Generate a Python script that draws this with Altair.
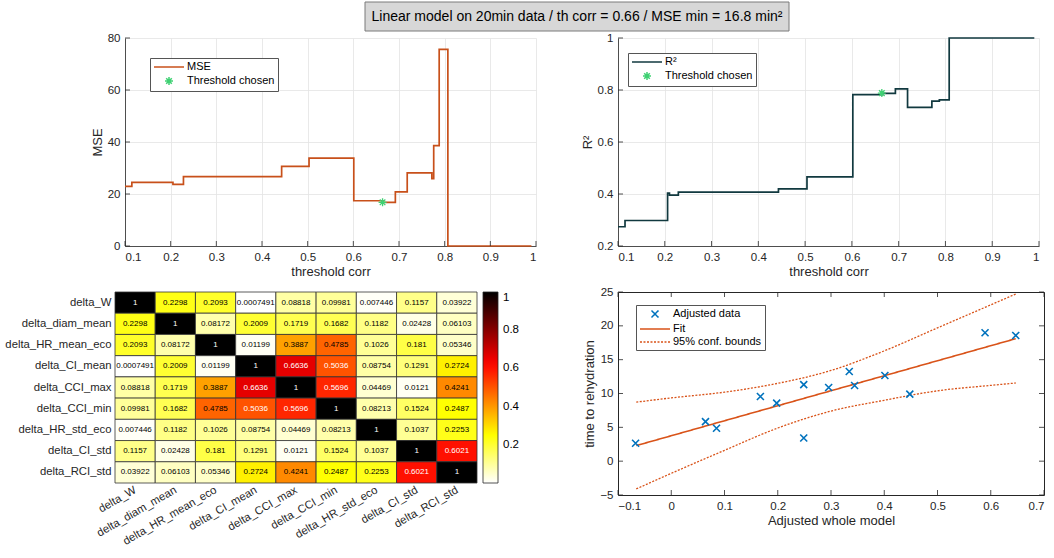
import altair as alt
import pandas as pd

FONT = "Liberation Sans"
INK = "#262626"
GRID = "#e3e3e3"
MSE_COLOR = "#c8501a"
R2_COLOR = "#11393f"
STAR_COLOR = "#3fd173"
BLUE = "#0072BD"
ORANGE = "#D95319"

TITLE = "Linear model on 20min data / th corr = 0.66 / MSE min = 16.8 min²"

# MSE and R² against the correlation threshold (value holds until the next break)
mse_thr = [0.100, 0.115, 0.205, 0.228, 0.443, 0.503, 0.601, 0.665, 0.692, 0.718, 0.772, 0.776, 0.788, 0.807, 0.990]
mse_val = [22.9, 24.5, 23.7, 26.7, 30.6, 33.8, 17.4, 16.8, 20.8, 28.1, 25.9, 38.6, 75.6, 0.0, 0.0]
r2_thr = [0.100, 0.115, 0.206, 0.210, 0.229, 0.443, 0.504, 0.602, 0.665, 0.693, 0.719, 0.771, 0.787, 0.808, 0.990]
r2_val = [0.274, 0.298, 0.403, 0.396, 0.407, 0.420, 0.466, 0.782, 0.787, 0.804, 0.733, 0.757, 0.762, 1.0, 1.0]

chosen_thr = 0.664
chosen_mse = 16.8
chosen_r2 = 0.788

thr_ticks = [0.1, 0.2, 0.3, 0.4, 0.5, 0.6, 0.7, 0.8, 0.9, 1.0]
mse_ticks = [0, 20, 40, 60, 80]
r2_ticks = [0.2, 0.4, 0.6, 0.8, 1.0]

# correlation matrix of the selected predictors
variables = ["delta_W", "delta_diam_mean", "delta_HR_mean_eco", "delta_CI_mean", "delta_CCI_max",
             "delta_CCI_min", "delta_HR_std_eco", "delta_CI_std", "delta_RCI_std"]
corr = [
    [1, 0.2298, 0.2093, 0.0007491, 0.08818, 0.09981, 0.007446, 0.1157, 0.03922],
    [0.2298, 1, 0.08172, 0.2009, 0.1719, 0.1682, 0.1182, 0.02428, 0.06103],
    [0.2093, 0.08172, 1, 0.01199, 0.3887, 0.4785, 0.1026, 0.181, 0.05346],
    [0.0007491, 0.2009, 0.01199, 1, 0.6636, 0.5036, 0.08754, 0.1291, 0.2724],
    [0.08818, 0.1719, 0.3887, 0.6636, 1, 0.5696, 0.04469, 0.0121, 0.4241],
    [0.09981, 0.1682, 0.4785, 0.5036, 0.5696, 1, 0.08213, 0.1524, 0.2487],
    [0.007446, 0.1182, 0.1026, 0.08754, 0.04469, 0.08213, 1, 0.1037, 0.2253],
    [0.1157, 0.02428, 0.181, 0.1291, 0.0121, 0.1524, 0.1037, 1, 0.6021],
    [0.03922, 0.06103, 0.05346, 0.2724, 0.4241, 0.2487, 0.2253, 0.6021, 1],
]
colorbar_ticks = [0.2, 0.4, 0.6, 0.8, 1.0]

# added-variable plot of the whole model
adj_x = [-0.067, 0.0643, 0.085, 0.1674, 0.198, 0.2488, 0.2488, 0.2956, 0.3343, 0.3443, 0.4012, 0.448, 0.5893, 0.6469]
adj_y = [2.65, 5.85, 4.87, 9.55, 8.57, 11.32, 3.43, 10.88, 13.25, 11.18, 12.66, 9.9, 18.98, 18.58]
fit_x = [-0.0657, 0.6469]
fit_y = [2.3, 18.1]
bound_x = [-0.0657, 0.0, 0.1, 0.2, 0.3, 0.4, 0.5, 0.6, 0.6469]
bound_hi = [8.72, 9.35, 10.2, 11.5, 13.4, 16.3, 19.7, 23.1, 24.7]
bound_lo = [-4.1, -1.8, 1.6, 4.9, 7.4, 9.0, 10.4, 11.2, 11.55]
model_ticks = [-0.1, 0.0, 0.1, 0.2, 0.3, 0.4, 0.5, 0.6, 0.7]
time_ticks = [-5, 0, 5, 10, 15, 20, 25]

# marker shapes (unit paths, scaled by the symbol size)
LINE_SYM = "M-3,0L3,0"
STAR = "M0,-0.8L0,0.8M-0.8,0L0.8,0M-0.56,-0.56L0.56,0.56M-0.56,0.56L0.56,-0.56"
XMARK = "M-0.7,-0.7L0.7,0.7M-0.7,0.7L0.7,-0.7"

LEG_BOX = dict(strokeColor="#555555", fillColor="white", padding=3, title=None,
               orient="none", labelFontSize=11, labelOffset=12, rowPadding=2,
               symbolSize=100, symbolStrokeWidth=1.5, symbolOffset=10)
NUM = "~r"


def inner_ticks(values, x_enc, y_enc, W, H, sides):
    """Short tick marks drawn inside the plot frame, on the panel's own scales and axes."""
    layers = []
    for side in sides:
        if side in ("bottom", "top"):
            df = pd.DataFrame({x_enc.shorthand.split(":")[0]: values})
            rule = alt.Chart(df).mark_rule(color=INK, strokeWidth=0.8)
            y0, y1 = (H, H - 5) if side == "bottom" else (0, 5)
            layers.append(rule.encode(x=x_enc, y=alt.value(y0), y2=alt.value(y1)))
        else:
            df = pd.DataFrame({y_enc.shorthand.split(":")[0]: values})
            rule = alt.Chart(df).mark_rule(color=INK, strokeWidth=0.8)
            x0, x1 = (0, 5) if side == "left" else (W, W - 5)
            layers.append(rule.encode(y=y_enc, x=alt.value(x0), x2=alt.value(x1)))
    return layers


def threshold_panel(thr, val, star_y, name, color, y_dom, y_ticks, y_title, W, leg_x, leg_y):
    H = 208
    curve = pd.DataFrame({"thr": thr, "val": val, "series": name})
    star = pd.DataFrame({"thr": [chosen_thr], "val": [star_y], "series": ["Threshold chosen"]})
    dom = [name, "Threshold chosen"]
    legend = alt.Legend(legendX=leg_x, legendY=leg_y, **LEG_BOX)
    cscale = alt.Scale(domain=dom, range=[color, STAR_COLOR])
    sscale = alt.Scale(domain=dom, range=[LINE_SYM, STAR])
    x_enc = alt.X("thr:Q", scale=alt.Scale(domain=[0.1, 1.0], nice=False, zero=False),
                  axis=alt.Axis(values=thr_ticks, format=NUM, title="threshold corr", grid=True,
                                labelOverlap=False))
    y_enc = alt.Y("val:Q", scale=alt.Scale(domain=y_dom, nice=False, zero=False),
                  axis=alt.Axis(values=y_ticks, format=NUM, title=y_title, grid=True,
                                labelOverlap=False))
    line = alt.Chart(curve).mark_line(interpolate="step-after", strokeWidth=1.7).encode(
        x=x_enc, y=y_enc, color=alt.Color("series:N", scale=cscale, legend=legend))
    point = alt.Chart(star).mark_point(filled=False, size=100, strokeWidth=1.3, opacity=1).encode(
        x=x_enc, y=y_enc,
        color=alt.Color("series:N", scale=cscale, legend=legend),
        shape=alt.Shape("series:N", scale=sscale, legend=legend))
    layers = ([line, point] + inner_ticks(thr_ticks, x_enc, y_enc, W, H, ["bottom"])
              + inner_ticks(y_ticks, x_enc, y_enc, W, H, ["left"]))
    return layers, W, H


tl_layers, tl_w, tl_h = threshold_panel(mse_thr, mse_val, chosen_mse, "MSE", MSE_COLOR,
                                        [0, 80], mse_ticks, "MSE", 411, 25, 20)
tr_layers, tr_w, tr_h = threshold_panel(r2_thr, r2_val, chosen_r2, "R²", R2_COLOR,
                                        [0.2, 1.0], r2_ticks, "R²", 421, 10, 15)

# boxed overall title, drawn above the first panel
title_df = pd.DataFrame({"title": [TITLE]})
title_box = alt.Chart(title_df).mark_rect(fill="#d7d7d7", stroke="#7a7a7a", strokeWidth=1).encode(
    x=alt.value(240), x2=alt.value(664), y=alt.value(-36), y2=alt.value(-7))
title_text = alt.Chart(title_df).mark_text(fontSize=14, color="black", align="center",
                                           baseline="middle", font=FONT).encode(
    x=alt.value(452), y=alt.value(-21), text="title:N")

tl = alt.layer(*tl_layers, title_box, title_text).properties(width=tl_w, height=tl_h)
tr = alt.layer(*tr_layers).properties(width=tr_w, height=tr_h)

# correlation heatmap
cells = []
for i, rname in enumerate(variables):
    for j in range(len(variables)):
        cells.append({"row": rname, "col": j, "col_end": j + 1, "mid": j + 0.5, "value": corr[i][j]})
cells = pd.DataFrame(cells)
name_expr = "[" + ",".join("'%s'" % v for v in variables) + "][floor(datum.value)]"
hm_x = alt.X("col:Q", scale=alt.Scale(domain=[0.2486, 9], nice=False, zero=False),
             axis=alt.Axis(values=[j + 0.5 for j in range(len(variables))], labelExpr=name_expr,
                           labelAngle=330, labelAlign="right", labelBaseline="middle",
                           labelOverlap=False, labelFontSize=11.3, labelPadding=6,
                           domain=False, ticks=False, grid=False, title=None, labelColor=INK))
hm_y = alt.Y("row:N", sort=variables, scale=alt.Scale(paddingInner=0, paddingOuter=0),
             axis=alt.Axis(offset=10, labelPadding=4, domain=False, ticks=False, grid=False,
                           title=None, labelFontSize=11.3, labelColor=INK))
hm_rect = alt.Chart(cells).mark_rect(stroke="#333333", strokeWidth=0.8).encode(
    x=hm_x, x2="col_end:Q", y=hm_y,
    color=alt.Color("value:Q",
                    scale=alt.Scale(domain=[0, 0.25, 0.625, 1],
                                    range=["#ffffff", "#ffff00", "#ff0000", "#000000"],
                                    interpolate="rgb"),
                    legend=alt.Legend(title=None, orient="right", offset=6, direction="vertical",
                                      gradientLength=191, gradientThickness=15,
                                      values=colorbar_ticks, format=NUM, labelFontSize=11.5,
                                      gradientStrokeColor=INK, gradientStrokeWidth=0.8,
                                      labelOffset=5, padding=0)))
hm_text = alt.Chart(cells).mark_text(fontSize=8, font=FONT).encode(
    x=alt.X("mid:Q"), y=alt.Y("row:N", sort=variables),
    text=alt.Text("value:Q", format=".4~g"),
    color=alt.condition("datum.value > 0.5", alt.value("white"), alt.value("black")))
hm = alt.layer(hm_rect, hm_text).properties(width=352, height=191)

# added-variable plot
SC_W, SC_H = 426, 203
sc_dom = ["Adjusted data", "Fit", "95% conf. bounds"]
sc_legend = alt.Legend(legendX=18, legendY=13, **LEG_BOX)
sc_color = alt.Color("series:N", scale=alt.Scale(domain=sc_dom, range=[BLUE, ORANGE, ORANGE]),
                     legend=sc_legend)
sc_shape = alt.Shape("series:N", scale=alt.Scale(domain=sc_dom, range=[XMARK, LINE_SYM, LINE_SYM]),
                     legend=sc_legend)
sc_dash = alt.StrokeDash("series:N", scale=alt.Scale(domain=sc_dom, range=[[1, 0], [1, 0], [2, 1.5]]),
                         legend=sc_legend)
sc_x = alt.X("x:Q", scale=alt.Scale(domain=[-0.1, 0.7], nice=False, zero=False),
             axis=alt.Axis(values=model_ticks, format=NUM, title="Adjusted whole model",
                           domain=False, grid=False, labelOverlap=False))
sc_y = alt.Y("y:Q", scale=alt.Scale(domain=[-5, 25], nice=False, zero=False),
             axis=alt.Axis(values=time_ticks, format=NUM, title="time to rehydration",
                           domain=False, grid=False, labelOverlap=False))

pts = pd.DataFrame({"x": adj_x, "y": adj_y, "series": "Adjusted data"})
fit = pd.DataFrame({"x": fit_x, "y": fit_y, "series": "Fit"})
bounds = pd.concat([
    pd.DataFrame({"x": bound_x, "y": bound_hi, "series": "95% conf. bounds", "side": "upper"}),
    pd.DataFrame({"x": bound_x, "y": bound_lo, "series": "95% conf. bounds", "side": "lower"}),
])

sc_bounds = alt.Chart(bounds).mark_line(strokeWidth=1.3, interpolate="monotone").encode(
    x=sc_x, y=sc_y, color=sc_color, strokeDash=sc_dash, detail="side:N")
sc_fit = alt.Chart(fit).mark_line(strokeWidth=1.6).encode(
    x=sc_x, y=sc_y, color=sc_color, strokeDash=sc_dash)
sc_pts = alt.Chart(pts).mark_point(filled=False, size=100, strokeWidth=1.6, opacity=1).encode(
    x=sc_x, y=sc_y, color=sc_color, shape=sc_shape)

sc_ticks = (inner_ticks(model_ticks, sc_x, sc_y, SC_W, SC_H, ["bottom", "top"])
            + inner_ticks(time_ticks, sc_x, sc_y, SC_W, SC_H, ["left", "right"]))
sc = alt.layer(sc_bounds, sc_fit, sc_pts, *sc_ticks).properties(
    width=SC_W, height=SC_H, view=alt.ViewBackground(stroke=INK, strokeWidth=1))

chart = alt.concat(tl, tr, hm, sc, columns=2, spacing={"row": 46, "column": 82},
                   bounds="flush").resolve_scale(
    color="independent", shape="independent", strokeDash="independent"
).resolve_legend(
    color="independent", shape="independent", strokeDash="independent"
).properties(
    autosize=alt.AutoSizeParams(type="none"),
    padding={"left": 125, "top": 38, "right": 929, "bottom": 520},
    background="white",
).configure(font=FONT).configure_view(stroke="transparent").configure_axis(
    labelFont=FONT, labelFontSize=11.5, labelColor=INK, titleFont=FONT, titleFontSize=13,
    titleColor=INK, titleFontWeight="normal", domainColor=INK, domainWidth=0.8,
    gridColor=GRID, gridWidth=0.8, ticks=False, labelPadding=5, titlePadding=3,
    labelOverlap=False,
).configure_legend(labelFont=FONT, labelColor="black")

chart.save("out.html", embed_options={"renderer": "svg", "actions": False})
